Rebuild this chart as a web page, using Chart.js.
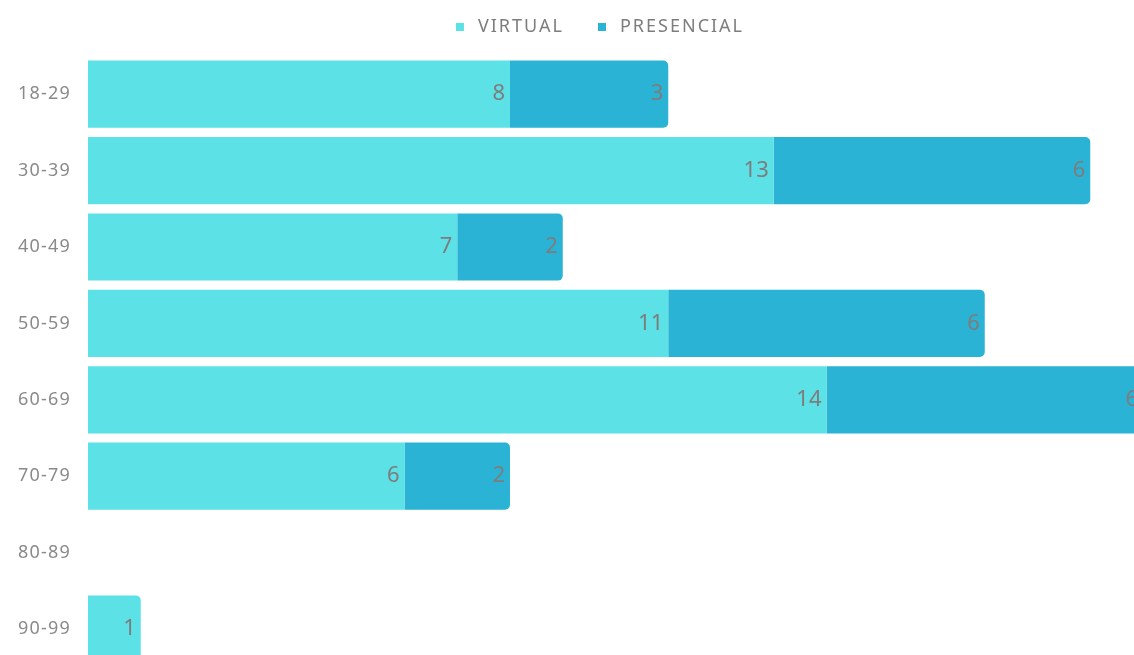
<!DOCTYPE html>
<html>
<head>
<meta charset="utf-8">
<script src="https://cdn.jsdelivr.net/npm/chart.js@4.4.0/dist/chart.umd.min.js"></script>
<style>
  html, body { margin: 0; padding: 0; background: #fff; overflow: hidden; }
  #chart { position: absolute; left: 0; top: 0; }
</style>
</head>
<body>
<canvas id="chart" width="1200" height="687"></canvas>
<script>
  // age groups and attendance counts
  var ageGroups = ["18-29", "30-39", "40-49", "50-59", "60-69", "70-79", "80-89", "90-99"];
  var virtualCounts = [8, 13, 7, 11, 14, 6, 0, 1];
  var presencialCounts = [3, 6, 2, 6, 6, 2, 0, 0];
  var seriesNames = ["VIRTUAL", "PRESENCIAL"];
  var seriesColors = ["#5ce1e6", "#2ab3d4"];

  var textColor = "#7d7d7d";
  var fontFamily = "'Noto Sans', 'Open Sans', sans-serif";

  // spaced-out lettering for the axis labels
  var letterSpacing = {
    id: "letterSpacing",
    beforeUpdate: function (chart) { chart.ctx.letterSpacing = "1.2px"; },
    beforeDraw: function (chart) { chart.ctx.letterSpacing = "1.2px"; }
  };

  // square markers + upper-case names, centred above the bars
  var topLegend = {
    id: "topLegend",
    afterDraw: function (chart) {
      var ctx = chart.ctx;
      ctx.save();
      ctx.font = "18px " + fontFamily;
      ctx.letterSpacing = "2px";
      ctx.textBaseline = "middle";
      ctx.textAlign = "left";
      var box = 8, boxGap = 14, itemGap = 34, y = 27;
      var widths = chart.data.datasets.map(function (ds) {
        return box + boxGap + ctx.measureText(ds.label).width;
      });
      var total = widths.reduce(function (a, b) { return a + b; }, 0) + itemGap * (widths.length - 1);
      var x = chart.width / 2 - total / 2;
      chart.data.datasets.forEach(function (ds, i) {
        ctx.fillStyle = ds.backgroundColor;
        ctx.fillRect(x, y - box / 2, box, box);
        ctx.fillStyle = textColor;
        ctx.fillText(ds.label, x + box + boxGap, y);
        x += widths[i] + itemGap;
      });
      ctx.restore();
    }
  };

  // writes each value just inside the end of its bar
  var barValueLabels = {
    id: "barValueLabels",
    afterDatasetsDraw: function (chart) {
      var ctx = chart.ctx;
      ctx.save();
      ctx.font = "22px " + fontFamily;
      ctx.letterSpacing = "0px";
      ctx.fillStyle = textColor;
      ctx.textAlign = "right";
      ctx.textBaseline = "middle";
      chart.data.datasets.forEach(function (dataset, i) {
        chart.getDatasetMeta(i).data.forEach(function (bar, j) {
          var value = dataset.data[j];
          if (!value) return;
          ctx.fillText(String(value), bar.x - 5, bar.y);
        });
      });
      ctx.restore();
    }
  };

  var chart = new Chart(document.getElementById("chart"), {
    type: "bar",
    data: {
      labels: ageGroups,
      datasets: [
        {
          label: seriesNames[0],
          data: virtualCounts,
          backgroundColor: seriesColors[0],
          borderRadius: 5,
          barPercentage: 0.88,
          categoryPercentage: 1
        },
        {
          label: seriesNames[1],
          data: presencialCounts,
          backgroundColor: seriesColors[1],
          borderRadius: 5,
          barPercentage: 0.88,
          categoryPercentage: 1
        }
      ]
    },
    options: {
      indexAxis: "y",
      responsive: false,
      animation: false,
      layout: { padding: { left: 0, right: 57, top: 56, bottom: 14 } },
      plugins: {
        tooltip: { enabled: false },
        legend: { display: false }
      },
      scales: {
        x: {
          stacked: true,
          min: 0,
          max: 20,
          display: false
        },
        y: {
          stacked: true,
          grid: { display: false },
          border: { display: false },
          afterFit: function (scale) { scale.width = 88; },
          ticks: {
            color: "#8a8a8a",
            padding: 9,
            font: { family: fontFamily, size: 18 }
          }
        }
      }
    },
    plugins: [letterSpacing, barValueLabels, topLegend]
  });
</script>
</body>
</html>
